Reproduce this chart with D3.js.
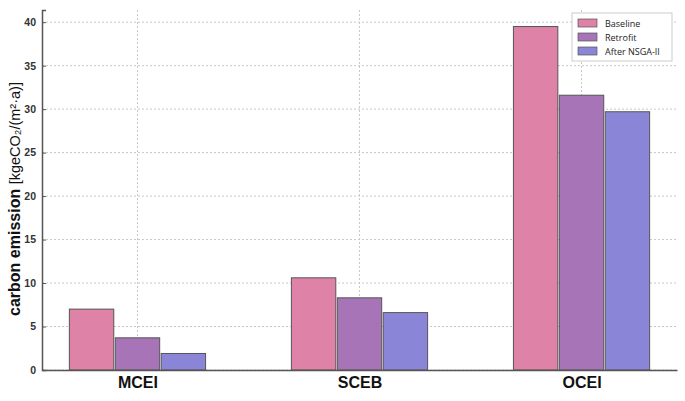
<!DOCTYPE html>
<html>
<head>
<meta charset="utf-8">
<script src="https://cdn.jsdelivr.net/npm/d3@7"></script>
<style>
  body { margin: 0; background: #fff; }
  svg { display: block; }
</style>
</head>
<body>
<div id="chart"></div>
<script>
var categories = ['MCEI', 'SCEB', 'OCEI'];
var seriesNames = ['Baseline', 'Retrofit', 'After NSGA-II'];
var baselineValues = [7.0, 10.6, 39.5];
var retrofitValues = [3.7, 8.3, 31.6];
var nsgaValues = [1.9, 6.6, 29.7];
var yTicks = [0, 5, 10, 15, 20, 25, 30, 35, 40];

var seriesValues = [baselineValues, retrofitValues, nsgaValues];
var seriesColors = ['#de82a8', '#a874b8', '#8a85d6'];

var width = 685;
var height = 401;

// note: "top" is taken by window.top, so use plot* names
var plotLeft = 42;
var plotRight = 677;
var plotTop = 10;
var plotBottom = 370;

var svg = d3.select('#chart').append('svg')
    .attr('width', width)
    .attr('height', height);

var x = d3.scalePoint()
    .domain(categories)
    .range([plotLeft, plotRight])
    .padding(0.43);

var y = d3.scaleLinear()
    .domain([0, 41.4])
    .range([plotBottom, plotTop]);

var barWidth = x.step() * 0.2;
var barGap = 1.5;

// grid lines
svg.append('g')
    .selectAll('line')
    .data(yTicks)
    .enter()
    .append('line')
    .attr('x1', plotLeft)
    .attr('x2', plotRight)
    .attr('y1', function (d) { return y(d); })
    .attr('y2', function (d) { return y(d); })
    .attr('stroke', '#c8c8c8')
    .attr('stroke-width', 1)
    .attr('stroke-dasharray', '2,2');

svg.append('g')
    .selectAll('line')
    .data(categories)
    .enter()
    .append('line')
    .attr('x1', function (d) { return x(d); })
    .attr('x2', function (d) { return x(d); })
    .attr('y1', plotTop)
    .attr('y2', plotBottom)
    .attr('stroke', '#c8c8c8')
    .attr('stroke-width', 1)
    .attr('stroke-dasharray', '2,2');

// bars
seriesValues.forEach(function (values, s) {
    svg.append('g')
        .selectAll('rect')
        .data(values)
        .enter()
        .append('rect')
        .attr('x', function (d, i) {
            return x(categories[i]) + (s - 1) * (barWidth + barGap) - barWidth / 2;
        })
        .attr('y', function (d) { return y(d); })
        .attr('width', barWidth)
        .attr('height', function (d) { return plotBottom - y(d); })
        .attr('fill', seriesColors[s])
        .attr('stroke', '#555')
        .attr('stroke-width', 1);
});

// y axis
var yAxis = d3.axisLeft(y)
    .tickValues(yTicks)
    .tickSize(-4)
    .tickPadding(6);

var yAxisG = svg.append('g')
    .attr('transform', 'translate(' + plotLeft + ',0)')
    .call(yAxis);

yAxisG.select('.domain').attr('stroke', '#555').attr('stroke-width', 1.5);
yAxisG.selectAll('.tick line').attr('stroke', '#555');
yAxisG.selectAll('.tick text')
    .attr('font-family', 'Liberation Sans, Arial, sans-serif')
    .attr('font-size', 10.5)
    .attr('font-weight', 'bold')
    .attr('fill', '#333');

// x axis
var xAxis = d3.axisBottom(x)
    .tickSize(0)
    .tickPadding(7);

var xAxisG = svg.append('g')
    .attr('transform', 'translate(0,' + plotBottom + ')')
    .call(xAxis);

xAxisG.select('.domain').attr('stroke', '#555').attr('stroke-width', 1.5);
xAxisG.selectAll('.tick text')
    .attr('font-family', 'Liberation Sans, Arial, sans-serif')
    .attr('font-size', 16)
    .attr('font-weight', 'bold')
    .attr('fill', '#111');

// y axis label
var yLabel = svg.append('text')
    .attr('transform', 'translate(20,' + 199 + ') rotate(-90)')
    .attr('text-anchor', 'middle')
    .attr('font-family', 'Liberation Sans, Arial, sans-serif')
    .attr('font-size', 16)
    .attr('fill', '#111');

yLabel.append('tspan').attr('font-weight', 'bold').text('carbon emission ');
yLabel.append('tspan').attr('font-size', 14.5).text('[kgeCO\u2082/(m\u00b2\u00b7a)]');

// legend
var legend = svg.append('g').attr('transform', 'translate(572,13)');

legend.append('rect')
    .attr('width', 100)
    .attr('height', 48)
    .attr('fill', '#fff')
    .attr('stroke', '#ccc')
    .attr('stroke-width', 1);

var items = legend.selectAll('.item')
    .data(seriesNames)
    .enter()
    .append('g')
    .attr('class', 'item')
    .attr('transform', function (d, i) {
        return 'translate(6,' + (6 + i * 14) + ')';
    });

items.append('rect')
    .attr('width', 19)
    .attr('height', 8)
    .attr('fill', function (d, i) { return seriesColors[i]; })
    .attr('stroke', '#555')
    .attr('stroke-width', 0.7);

items.append('text')
    .attr('x', 27)
    .attr('y', 7.5)
    .attr('font-family', 'Open Sans, sans-serif')
    .attr('font-size', 9)
    .attr('fill', '#222')
    .text(function (d) { return d; });
</script>
</body>
</html>
